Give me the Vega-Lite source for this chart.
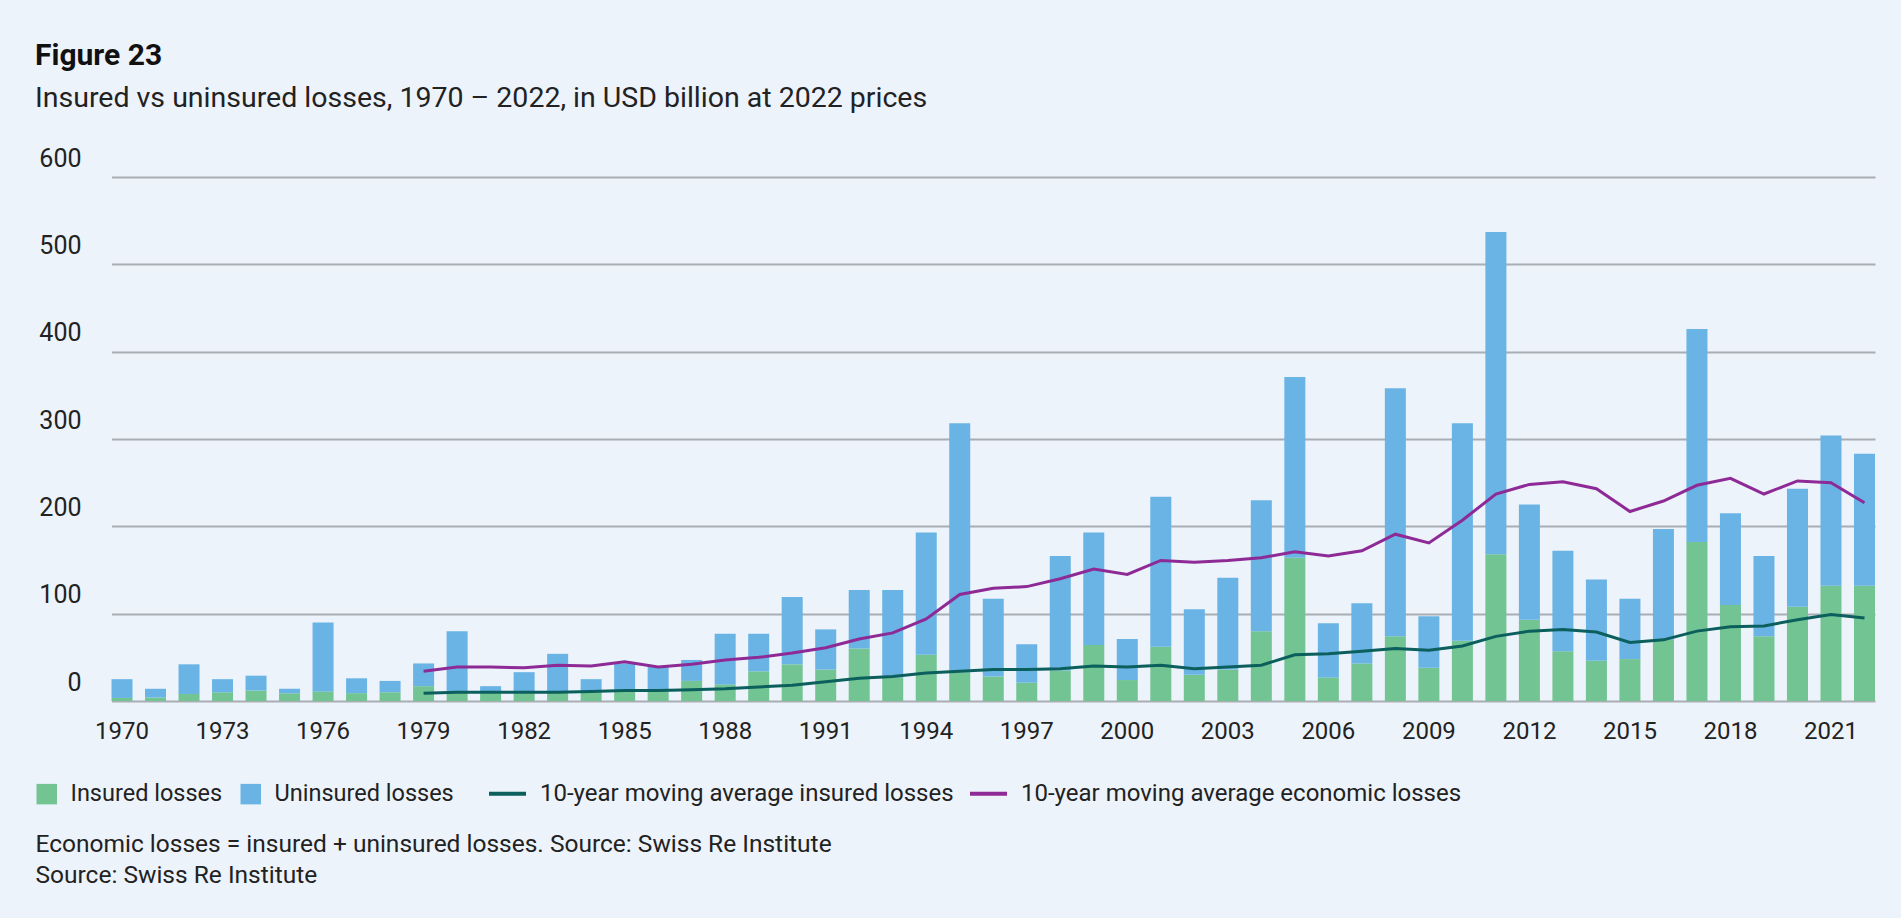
{
  "$schema": "https://vega.github.io/schema/vega-lite/v6.json",
  "width": 1866,
  "height": 524,
  "autosize": {"type": "none"},
  "padding": {"left": 35, "top": 177, "right": 0, "bottom": 217},
  "background": "#EDF3FB",
  "config": {
    "font": "Roboto",
    "view": {"stroke": null},
    "axis": {"labelFont": "Roboto", "labelColor": "#222222", "titleFont": "Roboto"},
    "legend": {"labelFont": "Roboto", "labelColor": "#222222"}
  },
  "title": {
    "text": "Figure 23",
    "subtitle": "Insured vs uninsured losses, 1970 – 2022, in USD billion at 2022 prices",
    "anchor": "start",
    "frame": "group",
    "font": "Roboto",
    "fontSize": 30,
    "fontWeight": "bold",
    "color": "#111111",
    "subtitleFont": "Roboto",
    "subtitleFontSize": 28.5,
    "subtitleColor": "#222222",
    "subtitlePadding": 13,
    "offset": 34
  },
  "data": {
    "values": [
      {"year": 1970, "insured": 3.5, "uninsured": 21.5, "ma_insured": null, "ma_economic": null},
      {"year": 1971, "insured": 4, "uninsured": 10, "ma_insured": null, "ma_economic": null},
      {"year": 1972, "insured": 8, "uninsured": 34, "ma_insured": null, "ma_economic": null},
      {"year": 1973, "insured": 10, "uninsured": 15, "ma_insured": null, "ma_economic": null},
      {"year": 1974, "insured": 12, "uninsured": 17, "ma_insured": null, "ma_economic": null},
      {"year": 1975, "insured": 9, "uninsured": 5, "ma_insured": null, "ma_economic": null},
      {"year": 1976, "insured": 11, "uninsured": 79, "ma_insured": null, "ma_economic": null},
      {"year": 1977, "insured": 9, "uninsured": 17, "ma_insured": null, "ma_economic": null},
      {"year": 1978, "insured": 10, "uninsured": 13, "ma_insured": null, "ma_economic": null},
      {"year": 1979, "insured": 17, "uninsured": 26, "ma_insured": 9, "ma_economic": 34},
      {"year": 1980, "insured": 10, "uninsured": 70, "ma_insured": 10, "ma_economic": 39},
      {"year": 1981, "insured": 9, "uninsured": 8, "ma_insured": 10, "ma_economic": 39},
      {"year": 1982, "insured": 9, "uninsured": 24, "ma_insured": 10, "ma_economic": 38},
      {"year": 1983, "insured": 10, "uninsured": 44, "ma_insured": 10, "ma_economic": 41},
      {"year": 1984, "insured": 10, "uninsured": 15, "ma_insured": 11, "ma_economic": 40},
      {"year": 1985, "insured": 12, "uninsured": 31, "ma_insured": 12, "ma_economic": 45},
      {"year": 1986, "insured": 11, "uninsured": 28, "ma_insured": 12, "ma_economic": 39},
      {"year": 1987, "insured": 23, "uninsured": 24, "ma_insured": 13, "ma_economic": 42},
      {"year": 1988, "insured": 19, "uninsured": 58, "ma_insured": 14, "ma_economic": 47},
      {"year": 1989, "insured": 34, "uninsured": 43, "ma_insured": 16, "ma_economic": 50},
      {"year": 1990, "insured": 42, "uninsured": 77, "ma_insured": 18, "ma_economic": 55},
      {"year": 1991, "insured": 36, "uninsured": 46, "ma_insured": 22, "ma_economic": 61},
      {"year": 1992, "insured": 60, "uninsured": 67, "ma_insured": 26, "ma_economic": 71},
      {"year": 1993, "insured": 27, "uninsured": 100, "ma_insured": 28, "ma_economic": 78},
      {"year": 1994, "insured": 53, "uninsured": 140, "ma_insured": 32, "ma_economic": 94},
      {"year": 1995, "insured": 33, "uninsured": 285, "ma_insured": 34, "ma_economic": 122},
      {"year": 1996, "insured": 28, "uninsured": 89, "ma_insured": 36, "ma_economic": 129},
      {"year": 1997, "insured": 21, "uninsured": 44, "ma_insured": 36, "ma_economic": 131},
      {"year": 1998, "insured": 35, "uninsured": 131, "ma_insured": 37, "ma_economic": 140},
      {"year": 1999, "insured": 64, "uninsured": 129, "ma_insured": 40, "ma_economic": 151},
      {"year": 2000, "insured": 24, "uninsured": 47, "ma_insured": 39, "ma_economic": 145},
      {"year": 2001, "insured": 62, "uninsured": 172, "ma_insured": 41, "ma_economic": 161},
      {"year": 2002, "insured": 30, "uninsured": 75, "ma_insured": 37, "ma_economic": 159},
      {"year": 2003, "insured": 36, "uninsured": 105, "ma_insured": 39, "ma_economic": 161},
      {"year": 2004, "insured": 80, "uninsured": 150, "ma_insured": 41, "ma_economic": 164},
      {"year": 2005, "insured": 164, "uninsured": 207, "ma_insured": 53, "ma_economic": 171},
      {"year": 2006, "insured": 27, "uninsured": 62, "ma_insured": 54, "ma_economic": 166},
      {"year": 2007, "insured": 43, "uninsured": 69, "ma_insured": 57, "ma_economic": 172},
      {"year": 2008, "insured": 74, "uninsured": 284, "ma_insured": 60, "ma_economic": 191},
      {"year": 2009, "insured": 38, "uninsured": 59, "ma_insured": 58, "ma_economic": 181},
      {"year": 2010, "insured": 69, "uninsured": 249, "ma_insured": 63, "ma_economic": 207},
      {"year": 2011, "insured": 168, "uninsured": 369, "ma_insured": 74, "ma_economic": 237},
      {"year": 2012, "insured": 93, "uninsured": 132, "ma_insured": 80, "ma_economic": 248},
      {"year": 2013, "insured": 57, "uninsured": 115, "ma_insured": 82, "ma_economic": 251},
      {"year": 2014, "insured": 46, "uninsured": 93, "ma_insured": 79, "ma_economic": 243},
      {"year": 2015, "insured": 48, "uninsured": 69, "ma_insured": 67, "ma_economic": 217},
      {"year": 2016, "insured": 70, "uninsured": 127, "ma_insured": 70, "ma_economic": 229},
      {"year": 2017, "insured": 182, "uninsured": 244, "ma_insured": 80, "ma_economic": 247},
      {"year": 2018, "insured": 110, "uninsured": 105, "ma_insured": 85, "ma_economic": 255},
      {"year": 2019, "insured": 74, "uninsured": 92, "ma_insured": 86, "ma_economic": 237},
      {"year": 2020, "insured": 108, "uninsured": 135, "ma_insured": 93, "ma_economic": 252},
      {"year": 2021, "insured": 132, "uninsured": 172, "ma_insured": 99, "ma_economic": 250},
      {"year": 2022, "insured": 132, "uninsured": 151, "ma_insured": 95, "ma_economic": 227}
    ]
  },
  "encoding": {
    "x": {
      "field": "year",
      "type": "ordinal",
      "scale": {"paddingInner": 0.373, "paddingOuter": 0, "range": [76.5, 1840]},
      "axis": {
        "values": [1970, 1973, 1976, 1979, 1982, 1985, 1988, 1991, 1994, 1997, 2000, 2003, 2006, 2009, 2012, 2015, 2018, 2021],
        "labelAngle": 0,
        "labelFontSize": 24,
        "labelPadding": 18,
        "domain": false,
        "ticks": false,
        "tickSize": 0,
        "grid": false,
        "title": ["Economic losses = insured + uninsured losses. Source: Swiss Re Institute", "Source: Swiss Re Institute"],
        "titleFontSize": 24.5,
        "titleFontWeight": "normal",
        "titleColor": "#222222",
        "titleAnchor": "start",
        "titleAlign": "left",
        "titleBaseline": "alphabetic",
        "titleLineHeight": 31,
        "titleX": 0,
        "titleY": 150
      }
    }
  },
  "layer": [
    {
      "transform": [{"fold": ["insured", "uninsured"], "as": ["series", "value"]}],
      "mark": {"type": "bar"},
      "encoding": {
        "y": {
          "field": "value",
          "type": "quantitative",
          "stack": "zero",
          "scale": {"domain": [0, 600], "nice": false},
          "axis": {
            "values": [0, 100, 200, 300, 400, 500, 600],
            "title": null,
            "domain": false,
            "ticks": false,
            "tickSize": 0,
            "grid": true,
            "gridColor": "#A9ADB4",
            "gridWidth": 2,
            "labelFontSize": 25,
            "labelAlign": "right",
            "labelBaseline": "middle",
            "labelPadding": -46,
            "labelOffset": -19
          }
        },
        "color": {
          "field": "series",
          "type": "nominal",
          "scale": {"domain": ["insured", "uninsured"], "range": ["#72C493", "#69B4E4"]},
          "legend": {
            "title": null,
            "orient": "none",
            "legendX": 0,
            "legendY": 605,
            "direction": "horizontal",
            "symbolType": "square",
            "symbolSize": 420,
            "symbolStrokeWidth": 0,
            "labelFontSize": 23.5,
            "labelOffset": 12,
            "columnPadding": 16,
            "labelLimit": 0,
            "labelExpr": "datum.value == 'insured' ? 'Insured losses' : 'Uninsured losses'"
          }
        },
        "order": {"field": "series", "sort": "ascending"}
      }
    },
    {
      "transform": [{"fold": ["ma_insured", "ma_economic"], "as": ["series", "value"]}],
      "mark": {"type": "line", "strokeWidth": 3},
      "encoding": {
        "y": {"field": "value", "type": "quantitative"},
        "stroke": {
          "field": "series",
          "type": "nominal",
          "scale": {"domain": ["ma_insured", "ma_economic"], "range": ["#0B5F5C", "#8E2A96"]},
          "legend": {
            "title": null,
            "orient": "none",
            "legendX": 452,
            "legendY": 596,
            "direction": "horizontal",
            "symbolType": "stroke",
            "symbolSize": 1369,
            "symbolStrokeWidth": 4,
            "labelFontSize": 24,
            "labelOffset": 12,
            "columnPadding": 8,
            "labelLimit": 0,
            "labelExpr": "datum.value == 'ma_insured' ? '10-year moving average insured losses' : '10-year moving average economic losses'"
          }
        }
      }
    }
  ]
}
